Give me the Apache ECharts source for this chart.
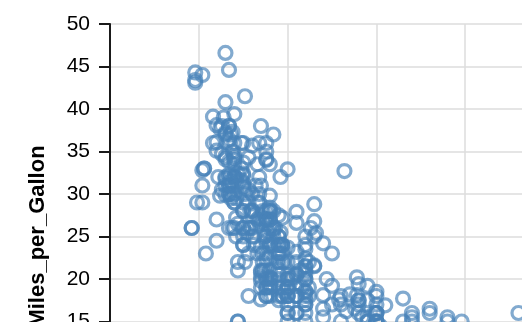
<!DOCTYPE html>
<html>
<head>
<meta charset="utf-8">
<script src="https://cdn.jsdelivr.net/npm/echarts@6/dist/echarts.min.js"></script>
<style>
  html, body { margin: 0; padding: 0; overflow: hidden; background: #fff; }
  #chart { width: 600px; height: 560px; }
</style>
</head>
<body>
<div id="chart"></div>
<script>
// Cars: horsepower vs. fuel economy, one entry per car (same order in both arrays)
const horsepower = [
  130,165,150,150,140,198,220,215,225,190,170,160,150,225,95,95,97,85,88,46,87,90,95,113,90,215,200,210,193,
  88,90,95,100,105,100,88,100,165,175,153,150,180,170,175,110,72,100,88,86,90,70,76,65,69,60,70,
  95,80,54,90,86,165,175,150,153,150,208,155,160,190,97,150,130,140,150,112,76,87,69,86,92,97,80,88,
  175,150,145,137,150,198,150,158,150,215,225,175,105,100,100,88,95,46,150,167,170,180,100,88,72,94,90,85,107,90,145,230,49,75,91,112,150,110,122,180,
  95,100,100,67,80,65,75,100,110,105,140,150,150,140,150,83,67,78,52,61,75,75,75,97,93,67,
  95,105,72,72,170,145,150,148,110,105,110,95,110,110,129,75,83,100,78,96,71,97,97,70,90,95,88,98,115,53,
  86,81,92,79,83,140,150,120,152,100,105,81,90,52,60,70,53,100,78,110,95,71,70,75,72,102,150,88,108,120,180,145,130,150,68,80,58,96,70,
  145,110,145,130,110,105,100,98,180,170,190,149,78,88,75,89,63,83,67,78,97,110,110,
  48,66,52,70,60,110,140,139,105,95,85,88,100,90,105,85,110,120,145,165,139,140,68,95,97,75,95,105,85,97,103,125,115,133,71,68,
  115,85,88,90,110,130,129,138,135,155,142,125,150,71,65,80,80,77,125,71,90,70,70,65,69,90,115,115,90,
  76,60,70,65,90,88,90,90,78,90,75,92,75,65,105,65,48,48,67,67,67,67,62,132,100,88,72,
  84,84,92,110,84,58,64,60,67,65,62,88,63,65,65,74,75,75,100,74,80,76,116,120,110,105,88,85,
  88,88,88,85,84,90,92,74,68,68,63,70,88,75,70,67,67,67,110,85,92,112,96,84,90,86,52,84,79,82
];
const milesPerGallon = [
  18,15,18,16,17,15,14,14,14,15,15,14,15,14,24,22,18,21,27,26,25,24,25,26,21,10,10,11,9,
  27,28,25,19,16,17,19,18,14,14,14,14,12,13,13,18,22,19,18,23,28,30,30,31,35,27,26,
  24,25,23,20,21,13,14,15,14,17,11,13,12,13,19,15,13,13,14,18,22,21,26,22,28,23,28,27,
  13,14,13,14,15,12,13,13,14,13,12,13,18,16,18,18,23,26,11,12,13,12,18,20,21,22,18,19,21,26,15,16,29,24,20,19,15,24,20,11,
  20,19,15,31,26,32,25,16,16,18,16,13,14,14,14,29,26,26,31,32,28,24,26,24,26,31,
  19,18,15,15,16,15,16,14,17,16,15,18,21,20,13,29,23,20,23,24,25,24,18,29,19,23,23,22,25,33,
  28,25,25,26,27,17.5,16,15.5,14.5,22,22,24,22.5,29,24.5,29,33,20,18,18.5,17.5,29.5,32,28,26.5,20,13,19,19,16.5,16.5,13,13,13,31.5,30,36,25.5,33.5,
  17.5,17,15.5,15,17.5,20.5,19,18.5,16,15.5,15.5,16,29,24.5,26,25.5,30.5,33.5,30,30.5,22,21.5,21.5,
  43.1,36.1,32.8,39.4,36.1,19.9,19.4,20.2,19.2,20.5,20.2,25.1,20.5,19.4,20.6,20.8,18.6,18.1,19.2,17.7,18.1,17.5,30,27.5,27.2,30.9,21.1,23.2,23.8,23.9,20.3,17,21.6,16.2,31.5,29.5,
  21.5,19.8,22.3,20.2,20.6,17,17.6,16.5,18.2,16.9,15.5,19.2,18.5,31.9,34.1,35.7,27.4,25.4,23,27.2,23.9,34.2,34.5,31.8,37.3,28.4,28.8,26.8,33.5,
  41.5,38.1,32.1,37.2,28,26.4,24.3,19.1,34.3,29.8,31.3,37,32.2,46.6,27.9,40.8,44.3,43.4,36.4,30,44.6,33.8,29.8,32.7,23.7,35,32.4,
  27.2,26.6,25.8,23.5,30,39.1,39,35.1,32.3,37,37.7,34.1,34.7,34.4,29.9,33,33.7,32.4,32.9,31.6,28.1,30.7,25.4,24.2,22.4,26.6,20.2,17.6,
  28,27,34,31,29,27,24,36,37,31,38,36,36,36,34,38,32,38,25,38,26,22,32,36,27,27,44,32,28,31
];

const points = horsepower.map((hp, i) => [hp, milesPerGallon[i]]);

const axisColor = '#1a1a1a';
const labelFont = 'Liberation Sans, Arial, Helvetica, sans-serif';

const chart = echarts.init(document.getElementById('chart'), null, { renderer: 'canvas' });
chart.setOption({
  animation: false,
  backgroundColor: '#fff',
  grid: { left: 110, top: 24, width: 444, height: 425, containLabel: false, outerBoundsMode: 'none' },
  xAxis: {
    type: 'value',
    min: 0,
    max: 250,
    interval: 50,
    name: 'Horsepower',
    nameLocation: 'middle',
    nameGap: 42,
    nameTextStyle: { fontSize: 22, fontWeight: 'bold', color: '#000', fontFamily: labelFont },
    axisLine: { show: true, onZero: false, lineStyle: { color: axisColor, width: 2 } },
    axisTick: { show: true, length: 11, lineStyle: { color: axisColor, width: 2 } },
    axisLabel: { fontSize: 21, color: '#000', fontFamily: labelFont, margin: 16 },
    splitLine: { show: true, lineStyle: { color: '#dcdcdc', width: 1.5 } }
  },
  yAxis: {
    type: 'value',
    min: 0,
    max: 50,
    interval: 5,
    name: 'Miles_per_Gallon',
    nameLocation: 'middle',
    nameGap: 61,
    nameTextStyle: { fontSize: 22, fontWeight: 'bold', color: '#000', fontFamily: labelFont },
    axisLine: { show: true, onZero: false, lineStyle: { color: axisColor, width: 2 } },
    axisTick: { show: true, length: 11, lineStyle: { color: axisColor, width: 2 } },
    axisLabel: { fontSize: 21, color: '#000', fontFamily: labelFont, margin: 20 },
    splitLine: { show: true, lineStyle: { color: '#dcdcdc', width: 1.5 } }
  },
  series: [{
    type: 'scatter',
    data: points,
    symbol: 'circle',
    symbolSize: 13,
    itemStyle: {
      color: 'rgba(255,255,255,0)',
      borderColor: 'rgba(72,130,184,0.85)',
      borderWidth: 3.2
    },
    emphasis: { disabled: true }
  }]
});
</script>
</body>
</html>
